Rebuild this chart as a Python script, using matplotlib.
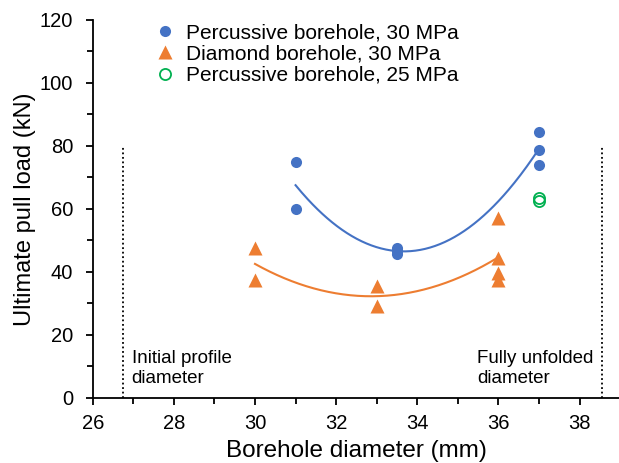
import numpy as np
import matplotlib.pyplot as plt
from matplotlib.ticker import MultipleLocator

plt.rcParams['font.family'] = ['Liberation Sans', 'DejaVu Sans']

# borehole diameter (mm) vs ultimate pull load (kN)
perc30_x = [31, 31, 33.5, 33.5, 33.5, 37, 37, 37]
perc30_y = [75, 60, 47.5, 46.5, 45.7, 84.5, 78.7, 74]

diam30_x = [30, 30, 33, 33, 36, 36, 36, 36]
diam30_y = [47.5, 37.5, 35.5, 29, 57, 44.5, 39.5, 37.5]

perc25_x = [37, 37]
perc25_y = [63.5, 62.5]

initial_diam = 26.74
unfolded_diam = 38.55

blue = '#4472C4'
orange = '#ED7D31'
green = '#00B050'

fig = plt.figure(figsize=(6.19, 4.63), dpi=100)
ax = fig.add_axes([0.1498, 0.141, 0.852, 0.816])

# quadratic trend lines
for xs, ys, c in [(perc30_x, perc30_y, blue), (diam30_x, diam30_y, orange)]:
    k = np.polyfit(xs, ys, 2)
    xx = np.linspace(min(xs), max(xs), 200)
    ax.plot(xx, np.polyval(k, xx), color=c, lw=1.5, zorder=2)

ax.plot(perc30_x, perc30_y, 'o', color=blue, ms=8, mec='none',
        label='Percussive borehole, 30 MPa', zorder=3)
ax.plot(diam30_x, diam30_y, '^', color=orange, ms=9.5, mec='none',
        label='Diamond borehole, 30 MPa', zorder=3)
ax.plot(perc25_x, perc25_y, 'o', mfc='none', mec=green, mew=1.3, ms=8,
        label='Percussive borehole, 25 MPa', zorder=3)

ax.vlines([initial_diam, unfolded_diam], 0, 80, colors='black',
          linestyles=(0, (1, 1.5)), lw=1.3)
ax.text(26.96, 3.5, 'Initial profile\ndiameter', fontsize=13.5,
        ha='left', va='bottom', linespacing=1.2)
ax.text(35.48, 3.5, 'Fully unfolded\ndiameter', fontsize=13.5,
        ha='left', va='bottom', linespacing=1.2)

ax.set_xlim(26, 39)
ax.set_ylim(0, 120)
ax.xaxis.set_major_locator(MultipleLocator(2))
ax.xaxis.set_minor_locator(MultipleLocator(1))
ax.yaxis.set_major_locator(MultipleLocator(20))
ax.yaxis.set_minor_locator(MultipleLocator(10))
ax.tick_params(which='both', direction='out', width=1.3, labelsize=14.5,
               color='black')
ax.tick_params(which='major', length=5)
ax.tick_params(which='minor', length=4)
ax.tick_params(axis='x', which='major', pad=7)
ax.tick_params(axis='y', which='major', pad=9)

for s in ['top', 'right']:
    ax.spines[s].set_visible(False)
for s in ['left', 'bottom']:
    ax.spines[s].set_linewidth(1.3)

ax.set_xlabel('Borehole diameter (mm)', fontsize=17.5, labelpad=5)
ax.set_ylabel('Ultimate pull load (kN)', fontsize=17, labelpad=3)

ax.legend(loc='upper left', bbox_to_anchor=(0.117, 0.99), frameon=False,
          fontsize=15, handletextpad=0.5, labelspacing=0.1,
          borderaxespad=0, borderpad=0, handlelength=1.0)

fig.savefig('out.png', dpi=100)
